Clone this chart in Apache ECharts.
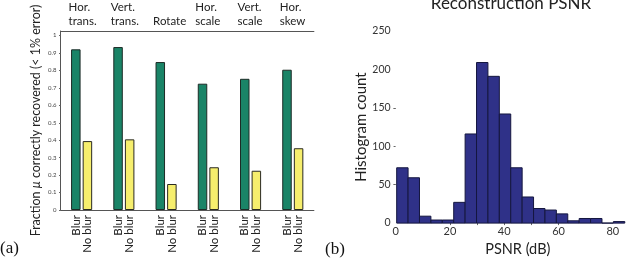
<!DOCTYPE html>
<html><head><meta charset="utf-8">
<script src="https://cdn.jsdelivr.net/npm/echarts@6/dist/echarts.min.js"></script>
<style>html,body{margin:0;padding:0;background:#fff}#c{width:640px;height:262px}</style>
</head><body><div id="c"></div>
<script>
// ---- Panel (a) data ----
const transforms = ['Hor.\ntrans.', 'Vert.\ntrans.', 'Rotate', 'Hor.\nscale', 'Vert.\nscale', 'Hor.\nskew'];
const blurValues = [0.921, 0.934, 0.848, 0.724, 0.752, 0.804];
const noBlurValues = [0.395, 0.405, 0.149, 0.245, 0.225, 0.354];
const fractionTicks = [0, 0.1, 0.2, 0.3, 0.4, 0.5, 0.6, 0.7, 0.8, 0.9, 1];

// ---- Panel (b) data ----
const binEdges = [0.4, 4.6, 8.8, 13.0, 17.2, 21.4, 25.6, 29.8, 34.0, 38.2, 42.4, 46.6, 50.8, 55.0, 59.2, 63.4, 67.6, 71.8, 76.0, 80.2, 84.4];
const binCounts = [72, 59, 9, 4, 4, 27, 116, 209, 191, 142, 72, 34, 19, 17, 12, 3, 6, 6, 0, 2];
const psnrTicks = [0, 20, 40, 60, 80];
const countTicks = [0, 50, 100, 150, 200, 250];

const FONT = 'Lato';
const histData = binCounts.map((c, i) => [binEdges[i], binEdges[i + 1], c]);
const nameRich = {
  n: {fontFamily: FONT, fontSize: 12.5, color: '#222'},
  i: {fontFamily: FONT, fontSize: 12.5, color: '#222', fontStyle: 'italic'}
};

const chart = echarts.init(document.getElementById('c'), null, {renderer: 'canvas'});
chart.setOption({
  animation: false,
  textStyle: {fontFamily: FONT},
  title: {
    text: 'Reconstruction PSNR', left: 506, top: -10, textAlign: 'center',
    textStyle: {fontFamily: FONT, fontSize: 17, fontWeight: 'normal', color: '#222'}
  },
  grid: [
    {left: 60.5, top: 31, width: 253.4, height: 179},
    {left: 395.6, top: 31, width: 244.8, height: 194},
    {left: 47.5, top: 31, width: 253.4, height: 179}
  ],
  xAxis: [
    {gridIndex: 0, type: 'category', data: transforms, position: 'bottom',
     axisLine: {show: true, lineStyle: {color: '#555', width: 1}}, axisTick: {show: false}, axisLabel: {show: false}},
    {gridIndex: 0, type: 'category', data: transforms, position: 'top',
     axisLine: {show: true, lineStyle: {color: '#555', width: 1}}, axisTick: {show: false}, axisLabel: {show: false}},
    {gridIndex: 1, type: 'value', min: 0, max: 90, interval: 20, position: 'bottom',
     axisLine: {show: false}, splitLine: {show: false},
     axisTick: {show: false},
     axisLabel: {fontSize: 11, color: '#333', margin: 3, customValues: psnrTicks},
     name: 'PSNR (dB)', nameLocation: 'middle', nameGap: 15,
     nameTextStyle: {fontSize: 14.5, color: '#222'}},
    {gridIndex: 1, type: 'value', min: 0, max: 90, position: 'top',
     axisLine: {show: false}, splitLine: {show: false}, axisLabel: {show: false},
     axisTick: {show: true, inside: true, length: 2, lineStyle: {color: '#666'}, customValues: [20, 30, 40, 50, 60]}},
    {gridIndex: 2, type: 'category', data: transforms, position: 'top',
     axisLine: {show: false}, axisTick: {show: false},
     axisLabel: {show: true, align: 'left', fontSize: 11.5, lineHeight: 13.5, color: '#222', margin: 3, interval: 0}}
  ],
  yAxis: [
    {gridIndex: 0, type: 'value', min: 0, max: 1.026, interval: 0.1,
     axisLine: {show: true, lineStyle: {color: '#555', width: 1}},
     axisTick: {show: true, length: 1.5, lineStyle: {color: '#666'}, customValues: fractionTicks},
     splitLine: {show: false},
     axisLabel: {fontSize: 6, color: '#444', margin: 4, customValues: fractionTicks,
       formatter: v => String(Math.round(v * 10) / 10)},
     name: '{n|Fraction }{i|μ}{n| correctly recovered (< 1% error)}', nameLocation: 'middle', nameGap: 18,
     nameTextStyle: {fontSize: 12.5, color: '#222', rich: nameRich}},
    {gridIndex: 1, type: 'value', min: 0, max: 250, interval: 50,
     axisLine: {show: false}, splitLine: {show: false},
     axisTick: {show: true, length: 2, lineStyle: {color: '#666'}, customValues: [50, 100, 150]},
     axisLabel: {fontSize: 10.5, color: '#333', margin: 5, customValues: countTicks},
     name: 'Histogram count', nameLocation: 'middle', nameGap: 26,
     nameTextStyle: {fontSize: 15, color: '#222'}},
    {gridIndex: 1, type: 'value', min: 0, max: 250, position: 'right',
     axisLine: {show: false}, splitLine: {show: false}, axisLabel: {show: false},
     axisTick: {show: true, inside: true, length: 2, lineStyle: {color: '#666'}, customValues: [50, 150]}},
    {gridIndex: 2, type: 'value', show: false}
  ],
  series: [
    {name: 'Blur', type: 'bar', xAxisIndex: 0, yAxisIndex: 0, data: blurValues,
     barWidth: 9.5, barGap: '22%',
     itemStyle: {color: '#1a8467', borderColor: '#1d2b26', borderWidth: 1},
     label: {show: true, position: 'bottom', distance: 5, rotate: 90, align: 'right', verticalAlign: 'middle',
       formatter: '{a}', fontSize: 11.5, color: '#222', fontFamily: FONT}},
    {name: 'No blur', type: 'bar', xAxisIndex: 0, yAxisIndex: 0, data: noBlurValues,
     barWidth: 9.5, barGap: '22%',
     itemStyle: {color: '#f6ee6d', borderColor: '#2a2a22', borderWidth: 1},
     label: {show: true, position: 'bottom', distance: 5, rotate: 90, align: 'right', verticalAlign: 'middle',
       formatter: '{a}', fontSize: 11.5, color: '#222', fontFamily: FONT}},
    {name: 'PSNR', type: 'custom', xAxisIndex: 2, yAxisIndex: 1, data: histData,
     encode: {x: [0, 1], y: 2},
     renderItem: function (params, api) {
       const p0 = api.coord([api.value(0), api.value(2)]);
       const p1 = api.coord([api.value(1), 0]);
       return {type: 'rect',
         shape: {x: p0[0], y: p0[1], width: p1[0] - p0[0], height: p1[1] - p0[1]},
         style: {fill: '#2f3188', stroke: '#15173f', lineWidth: 1}};
     }}
  ],
  graphic: [
    {type: 'text', left: 0, top: 240, style: {text: '(a)', font: '17px "Liberation Serif"', fill: '#111'}},
    {type: 'text', left: 325, top: 241, style: {text: '(b)', font: '17px "Liberation Serif"', fill: '#111'}}
  ]
});
</script></body></html>
